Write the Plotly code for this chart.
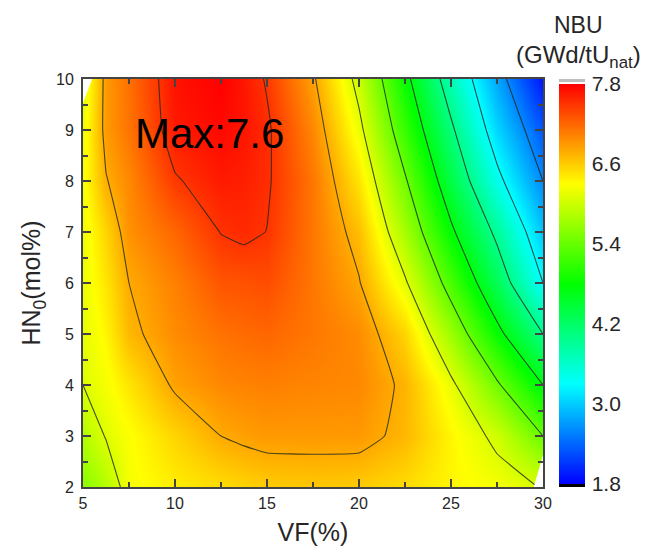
import plotly.graph_objects as go

vf = [5, 6.25, 7.5, 10, 12.5, 13.75, 15, 17.5, 20, 22.5, 25, 27.5, 30]
hn = [2, 3, 4, 5, 6, 7, 8, 9, 10]
nbu_hn2 = [5.6, 5.85, 6.25, 6.4, 6.5, 6.55, 6.6, 6.62, 6.6, 6.5, 6.35, 6.25, 6.08]
nbu_hn3 = [5.85, 6.12, 6.28, 6.55, 6.8, 6.86, 6.9, 6.9, 6.9, 6.72, 6.35, 6.02, 5.4]
nbu_hn4 = [6.1, 6.25, 6.45, 6.85, 7.0, 7.03, 7.05, 7.02, 7.0, 6.74, 6.18, 5.46, 4.7]
nbu_hn5 = [6.15, 6.35, 6.72, 6.98, 7.13, 7.17, 7.2, 7.1, 6.98, 6.55, 5.72, 4.83, 4.0]
nbu_hn6 = [6.18, 6.45, 6.8, 7.05, 7.3, 7.32, 7.35, 7.1, 6.82, 6.15, 5.22, 4.3, 3.3]
nbu_hn7 = [6.2, 6.55, 6.95, 7.2, 7.51, 7.56, 7.495, 7.1, 6.68, 5.77, 4.78, 3.9, 2.95]
nbu_hn8 = [6.25, 6.78, 7.0, 7.47, 7.65, 7.62, 7.54, 7.1, 6.45, 5.45, 4.4, 3.42, 2.6]
nbu_hn9 = [6.2, 6.9, 7.12, 7.65, 7.75, 7.68, 7.55, 7.0, 6.2, 5.11, 4.08, 3.06, 2.3]
nbu_hn10 = [6.1, 6.9, 7.14, 7.7, 7.8, 7.67, 7.47, 6.85, 5.97, 4.83, 3.74, 2.78, 1.9]
nbu = [nbu_hn2, nbu_hn3, nbu_hn4, nbu_hn5, nbu_hn6, nbu_hn7, nbu_hn8, nbu_hn9, nbu_hn10]

colorbar_ticks = [1.8, 3.0, 4.2, 5.4, 6.6, 7.8]
contour_start, contour_end, contour_step = 2.6, 7.5, 0.7
blank_top_vf = [5, 5.5, 5]
blank_top_hn = [10, 10, 9.53]
blank_bottom_vf = [30, 29.5, 30]
blank_bottom_hn = [2, 2, 2.63]

FONT = "Liberation Sans"
INK = "#262626"
AXIS = "#444444"
rainbow = [[0, "#0000ff"], [0.25, "#00ffff"], [0.5, "#00ff00"], [0.75, "#ffff00"], [1, "#ff0000"]]

fig = go.Figure()
fig.add_trace(go.Heatmap(
    x=vf, y=hn, z=nbu, zsmooth="best", zmin=1.8, zmax=7.8, colorscale=rainbow,
    hoverinfo="skip",
    colorbar=dict(
        x=1.0348, xanchor="left", xpad=0, y=0.4975, yanchor="middle", ypad=0,
        thickness=26, thicknessmode="pixels", len=400, lenmode="pixels",
        outlinewidth=0, ticks="outside", ticklen=3, tickcolor="rgba(0,0,0,0)",
        tickmode="array", tickvals=colorbar_ticks,
        ticktext=[f"{v:.1f}" for v in colorbar_ticks],
        tickfont=dict(family=FONT, size=21, color=INK),
    ),
))
fig.add_trace(go.Contour(
    x=vf, y=hn, z=nbu, showscale=False, hoverinfo="skip",
    contours=dict(coloring="none", start=contour_start, end=contour_end, size=contour_step),
    line=dict(color="rgba(30,40,30,0.8)", width=1.1, smoothing=0.3),
))
for bx, by in ((blank_top_vf, blank_top_hn), (blank_bottom_vf, blank_bottom_hn)):
    fig.add_trace(go.Scatter(x=bx, y=by, mode="lines", line=dict(width=0), fill="toself",
                             fillcolor="white", hoverinfo="skip", showlegend=False))

axis = dict(showgrid=False, zeroline=False, showline=True, linecolor=AXIS, linewidth=2,
            mirror="ticks", ticks="inside", ticklen=8, tickwidth=1.5, tickcolor=AXIS,
            automargin=False, tickfont=dict(family=FONT, size=16, color=INK))
fig.update_xaxes(range=[5, 30], dtick=5, tick0=5, ticklabelstandoff=1,
                 minor=dict(dtick=2.5, ticks="inside", ticklen=5, tickcolor=AXIS, tickwidth=1.5),
                 title=dict(text="VF(%)", font=dict(family=FONT, size=25, color=INK), standoff=12), **axis)
fig.update_yaxes(range=[2, 10], dtick=1, tick0=2, ticklabelstandoff=4,
                 minor=dict(dtick=0.5, ticks="inside", ticklen=5, tickcolor=AXIS, tickwidth=1.5),
                 title=dict(text="HN<sub>0</sub>(mol%)", font=dict(family=FONT, size=25, color=INK), standoff=8), **axis)

fig.update_layout(
    width=644, height=539, autosize=False, showlegend=False,
    paper_bgcolor="white", plot_bgcolor="white",
    margin=dict(l=75, r=109, t=71, b=60),
    annotations=[
        dict(x=11.88, y=8.94, xref="x", yref="y", text="Max:7.6", showarrow=False,
             font=dict(family=FONT, size=42, color="black")),
        dict(x=1.077, y=1.132, xref="paper", yref="paper", xanchor="center", yanchor="middle",
             text="NBU", showarrow=False, font=dict(family=FONT, size=23, color=INK)),
        dict(x=1.077, y=1.054, xref="paper", yref="paper", xanchor="center", yanchor="middle",
             text="(GWd/tU<sub>nat</sub>)", showarrow=False, font=dict(family=FONT, size=24, color=INK)),
    ],
    shapes=[
        dict(type="rect", xref="paper", yref="paper", x0=1.0348, x1=1.0913, y0=0.9925, y1=1.0,
             fillcolor="#bdbdbd", line_width=0),
        dict(type="rect", xref="paper", yref="paper", x0=1.0348, x1=1.0913, y0=0.0, y1=0.0075,
             fillcolor="black", line_width=0),
    ],
)
fig.write_html("out.html")
